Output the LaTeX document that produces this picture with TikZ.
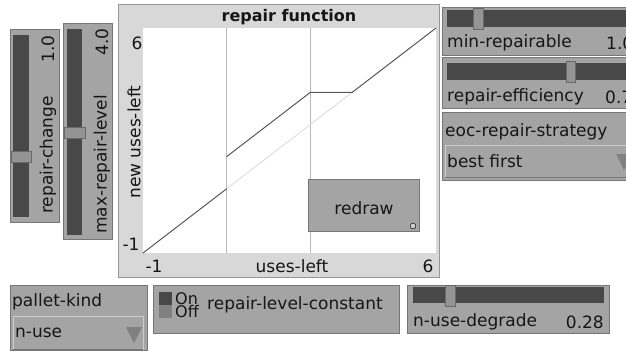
\documentclass[tikz,border=0pt]{standalone}
\usepackage{fontspec}
\setmainfont{DejaVu Sans}
\definecolor{wgray}{RGB}{164,164,164}
\definecolor{wedge}{RGB}{118,118,118}
\definecolor{trackc}{RGB}{72,72,72}
\definecolor{handlec}{RGB}{148,148,148}
\definecolor{handleedge}{RGB}{105,105,105}
\definecolor{plotbg}{RGB}{216,216,216}
\definecolor{plotedge}{RGB}{150,150,150}
\definecolor{gridc}{RGB}{185,185,185}
\definecolor{curvec}{RGB}{88,88,88}
\definecolor{identc}{RGB}{218,218,218}
\definecolor{txtc}{RGB}{22,22,22}
\definecolor{tric}{RGB}{128,128,128}
\definecolor{hilite}{RGB}{205,205,205}
\tikzset{
  widget/.style={fill=wgray, draw=wedge, line width=0.8pt},
  trackbox/.style={fill=trackc, draw=none},
  knob/.style={fill=handlec, draw=handleedge, line width=0.5pt},
  dropbox/.style={fill=wgray, draw=hilite, line width=0.8pt},
  lbl/.style={font=\fontsize{17}{18}\selectfont, text=txtc, inner sep=0pt},
  smalllbl/.style={font=\fontsize{16}{12.5}\selectfont, text=txtc, inner sep=0pt, align=left},
  titlelbl/.style={font=\fontsize{16}{18}\selectfont\bfseries, text=txtc, inner sep=0pt},
  tri/.style={fill=tric, draw=none},
  gridline/.style={draw=gridc, line width=0.8pt},
  identline/.style={draw=identc, line width=0.8pt},
  curveline/.style={draw=curvec, line width=1pt}
}
\begin{document}
\begin{tikzpicture}[x=1pt,y=-1pt]
\useasboundingbox (0,0) rectangle (626,351);
\clip (0,0) rectangle (626,351);
\fill[white] (0,0) rectangle (626,351);

% ---- vertical slider: repair-change
\draw[widget] (10,29) rectangle (59,222);
\fill[trackbox] (13,35) rectangle (29,217);
\draw[knob] (11,151) rectangle (31,162);
\node[lbl, rotate=90, anchor=west] (rcname) at (48,214) {repair-change};
\node[lbl, rotate=90, anchor=east] (rcval) at (48,35) {1.0};

% ---- vertical slider: max-repair-level
\draw[widget] (63,23) rectangle (112,239);
\fill[trackbox] (67,29) rectangle (82,235);
\draw[knob] (64,127) rectangle (85,138);
\node[lbl, rotate=90, anchor=west] (mrname) at (102,234) {max-repair-level};
\node[lbl, rotate=90, anchor=east] (mrval) at (102,28) {4.0};

% ---- plot
\draw[fill=plotbg, draw=plotedge, line width=0.8pt] (118,4) rectangle (439,277);
\fill[white] (143,28) rectangle (436,253);
\node[titlelbl] (ptitle) at (289,17) {repair function};
\node[lbl] (ymax) at (137,43) {6};
\node[lbl] (ymin) at (131,244) {-1};
\node[lbl] (xmin) at (154,266) {-1};
\node[lbl] (xlab) at (292,266) {uses-left};
\node[lbl] (xmax) at (428,266) {6};
\node[lbl, rotate=90] (ylab) at (134,142) {new uses-left};
\begin{scope}[shift={(143,253)}, x=41.857pt, y=32.143pt]
  \draw[gridline] (2,0) -- (2,7);
  \draw[gridline] (4,0) -- (4,7);
  \draw[identline] (2,2) -- (5,5);
  \draw[curveline] (0,0) -- (2,2);
  \draw[curveline] (2,3) -- (4,5) -- (5,5) -- (7,7);
\end{scope}
% redraw button
\draw[fill=wgray, draw=wedge, line width=0.8pt] (308,179) rectangle (419,231);
\node[lbl] (redraw) at (364,208) {redraw};
\draw[fill=hilite, draw=txtc, line width=0.5pt, rounded corners=1pt] (410.5,223.5) rectangle (415.5,228.5);

% ---- slider: min-repairable
\draw[widget] (442,7) rectangle (640,55);
\fill[trackbox] (447,10) rectangle (640,27);
\draw[knob] (473,8) rectangle (483,29);
\node[lbl, anchor=west] (minname) at (447,43) {min-repairable};
\node[lbl, anchor=west] (minval) at (606,43) {1.0};

% ---- slider: repair-efficiency
\draw[widget] (442,57) rectangle (640,108);
\fill[trackbox] (447,63) rectangle (640,80);
\draw[knob] (566,61) rectangle (575,82);
\node[lbl, anchor=west] (effname) at (447,97) {repair-efficiency};
\node[lbl, anchor=west] (effval) at (605,97) {0.7};

% ---- chooser: eoc-repair-strategy
\draw[widget] (442,112) rectangle (640,180);
\node[lbl, anchor=west] (eocname) at (445,132) {eoc-repair-strategy};
\draw[dropbox] (445,145) rectangle (640,177);
\draw[wedge, line width=0.8pt] (445,177) -- (640,177);
\node[lbl, anchor=west] (eocval) at (447,161) {best first};
\fill[tri] (616,154) -- (632,154) -- (624,170) -- cycle;

% ---- chooser: pallet-kind
\draw[widget] (10,285) rectangle (147,350);
\node[lbl, anchor=west] (pkname) at (12,302) {pallet-kind};
\draw[dropbox] (13,316) rectangle (143,349);
\draw[wedge, line width=0.8pt] (13,349) -- (143,349);
\node[lbl, anchor=west] (pkval) at (15,333) {n-use};
\fill[tri] (126,327) -- (142,327) -- (134,343) -- cycle;

% ---- switch: repair-level-constant
\draw[widget] (153,285) rectangle (399,333);
\fill[trackc] (159,292) rectangle (172,305);
\fill[tric] (159,305) rectangle (172,318);
\node[smalllbl, anchor=west] (onoff) at (175,305) {On\\Off};
\node[lbl, anchor=west] (swname) at (207,305) {repair-level-constant};

% ---- slider: n-use-degrade
\draw[widget] (407,285) rectangle (609,333);
\fill[trackbox] (413,287) rectangle (604,303);
\draw[knob] (445,285) rectangle (455,306);
\node[lbl, anchor=west] (nuname) at (413,322) {n-use-degrade};
\node[lbl, anchor=east] (nuval) at (604,322) {0.28};
\end{tikzpicture}
\end{document}
